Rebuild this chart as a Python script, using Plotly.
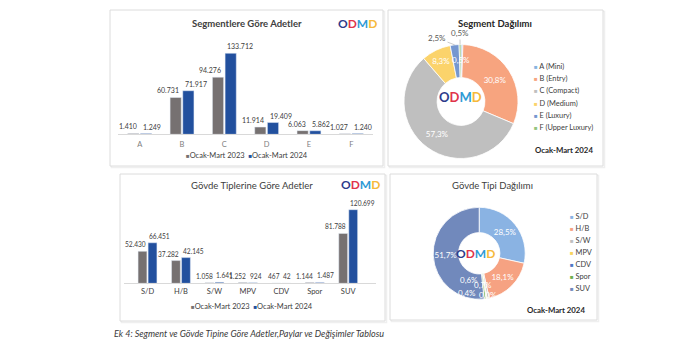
import math
import plotly.graph_objects as go

W, H = 683, 350

# ---------------- data ----------------
seg_cats = ["A", "B", "C", "D", "E", "F"]
seg_2023 = [1410, 60731, 94276, 11914, 6063, 1027]
seg_2024 = [1249, 71917, 133712, 19409, 5862, 1240]
seg_pie_labels = ["A (Mini)", "B (Entry)", "C (Compact)", "D (Medium)", "E (Luxury)", "F (Upper Luxury)"]

body_cats = ["S/D", "H/B", "S/W", "MPV", "CDV", "Spor", "SUV"]
body_2023 = [52430, 37282, 1058, 1252, 467, 1144, 81788]
body_2024 = [66451, 42145, 1641, 924, 42, 1487, 120699]

series_names = ["Ocak-Mart 2023", "Ocak-Mart 2024"]
period_label = "Ocak-Mart 2024"

title_seg_bar = "Segmentlere Göre Adetler"
title_seg_pie = "Segment Dağılımı"
title_body_bar = "Gövde Tiplerine Göre Adetler"
title_body_pie = "Gövde Tipi Dağılımı"
caption = "Ek 4: Segment ve Gövde Tipine Göre Adetler,Paylar ve Değişimler Tablosu"

# ---------------- style ----------------
FONT = "Lato"
C_2023 = "#767171"
C_2024 = "#22509E"
TXT = "#404040"
seg_colors = ["#86B4E0", "#F7A47F", "#BFBFBF", "#FBD36B", "#7597D0", "#93C47D"]
body_colors = ["#8AB3E3", "#F6A282", "#BFBFBF", "#F9D45F", "#4F78C4", "#6FAE4E", "#7189BC"]
NB = "\u00a0"
TOP_LBL = 7
BOT_LBL = 6.6
TOP_GAP = 2    # px: 2023 labels end this far left of the group centre, 2024 labels start this far right
BOT_GAP = 0.8


def px(x):
    return x / W


def py(y):
    return 1 - y / H


def fmt_int(v):
    return f"{v:,}".replace(",", ".")


def fmt_pct(v, total):
    return f"{v / total * 100:.1f}%".replace(".", ",")


def logo(size):
    letters = [("O", "#2D3C8C"), ("D", "#E0344B"), ("M", "#2E9BD6"), ("D", "#F6B93B")]
    s = "".join(f"<span style='color:{c}'>{ch}</span>" for ch, c in letters)
    return dict(text=f"<b>{s}</b>", font=dict(size=size, family=FONT), showarrow=False)


fig = go.Figure()
ann = []


def add_bars(cats, vals, color, name, side, size, gap, xa, ya):
    fig.add_trace(go.Bar(
        x=cats, y=vals, name=name, marker_color=color,
        xaxis=xa, yaxis=ya, showlegend=False))
    # value labels tied to the bar tops through the axes
    for c, v in zip(cats, vals):
        ann.append(dict(xref=xa, yref=ya, x=c, y=v, text=fmt_int(v), showarrow=False,
                        xanchor="right" if side < 0 else "left", yanchor="bottom",
                        xshift=side * gap, yshift=2, borderpad=0,
                        font=dict(size=size, color=TXT, family=FONT)))


add_bars(seg_cats, seg_2023, C_2023, series_names[0], -1, TOP_LBL, TOP_GAP, "x", "y")
add_bars(seg_cats, seg_2024, C_2024, series_names[1], +1, TOP_LBL, TOP_GAP, "x", "y")
add_bars(body_cats, body_2023, C_2023, series_names[0], -1, BOT_LBL, BOT_GAP, "x2", "y2")
add_bars(body_cats, body_2024, C_2024, series_names[1], +1, BOT_LBL, BOT_GAP, "x2", "y2")

# ---------------- pie 1 ----------------
seg_total = sum(seg_2024)
seg_small = [0, 4, 5]  # labelled by annotations
fig.add_trace(go.Pie(
    labels=seg_pie_labels, values=seg_2024, sort=False, direction="clockwise", rotation=0,
    hole=0.42,
    domain=dict(x=[px(404), px(518)], y=[py(158.5), py(44.5)]),
    marker=dict(colors=seg_colors, line=dict(color="white", width=0.8)),
    texttemplate=["" if i in seg_small else "%{percent:.1%}" for i in range(len(seg_2024))],
    textposition="inside", insidetextorientation="horizontal",
    textfont=dict(color="white", size=8, family=FONT),
    showlegend=False))

# ---------------- pie 2 ----------------
body_total = sum(body_2024)
body_small = [2, 3, 4, 5]
fig.add_trace(go.Pie(
    labels=body_cats, values=body_2024, sort=False, direction="clockwise", rotation=0,
    hole=0.45,
    domain=dict(x=[px(433.2), px(525.2)], y=[py(299.3), py(207.3)]),
    marker=dict(colors=body_colors, line=dict(color="white", width=0.8)),
    texttemplate=["" if i in body_small else "%{percent:.1%}" for i in range(len(body_2024))],
    textposition="inside", insidetextorientation="horizontal",
    textfont=dict(color="white", size=8, family=FONT),
    showlegend=False))

# ---------------- shapes (panels) ----------------
panels = [(110, 10, 383, 166), (388, 10, 603, 166), (120, 174, 385, 321), (390, 174, 597, 320)]
shapes = []
for (x0, y0, x1, y1) in panels:
    shapes.append(dict(type="rect", xref="paper", yref="paper",
                       x0=px(x0 + 1.5), x1=px(x1 + 1.5), y0=py(y1 + 1.5), y1=py(y0 + 1.5),
                       line=dict(color="#EFEFEF", width=1.5), fillcolor="rgba(0,0,0,0)", layer="below"))
    shapes.append(dict(type="rect", xref="paper", yref="paper",
                       x0=px(x0), x1=px(x1), y0=py(y1), y1=py(y0),
                       line=dict(color="#DCDCDC", width=1), fillcolor="white", layer="below"))


# ---------------- annotations ----------------
def add_text(x, y, text, size=7.5, color=TXT, xanchor="center", bold=False, **kw):
    t = f"<b>{text}</b>" if bold else text
    ann.append(dict(xref="paper", yref="paper", x=px(x), y=py(y), text=t, showarrow=False,
                    xanchor=xanchor, yanchor="middle",
                    font=dict(size=size, color=color, family=FONT), **kw))


# titles
add_text(247, 23, title_seg_bar, size=9.5, color="#404040", bold=True)
add_text(495, 23, title_seg_pie, size=9.5, color="#262626", bold=True)
add_text(252, 185, title_body_bar, size=9.5, color="#404040")
add_text(492, 185, title_body_pie, size=9.5, color="#404040")

# logos
for (x, y, s) in [(357, 23, 12), (360, 184.5, 12), (460, 97, 13), (475, 253, 12)]:
    d = logo(s)
    d.update(xref="paper", yref="paper", x=px(x), y=py(y), xanchor="center", yanchor="middle")
    ann.append(d)

# bar legends
bar_colors = [C_2023, C_2024]
leg = (NB * 2).join(
    f"<span style='color:{c};font-size:6px'>■</span>{n}" for n, c in zip(series_names, bar_colors))
add_text(247, 155, leg, size=7.5, color="#404040")
add_text(252, 306, leg, size=7.5, color="#404040")

# pie legends
for i, (lab, c) in enumerate(zip(seg_pie_labels, seg_colors)):
    add_text(532, 66 + 12.4 * i, f"<span style='color:{c};font-size:6px'>■</span>{NB}{lab}",
             size=7.4, color="#404040", xanchor="left")
for i, (lab, c) in enumerate(zip(body_cats, body_colors)):
    add_text(568, 216.7 + 11.95 * i, f"<span style='color:{c};font-size:6px'>■</span>{NB}{lab}",
             size=7.4, color="#404040", xanchor="left")

# period labels
add_text(595, 150, period_label, size=7.8, color="#262626", xanchor="right", bold=True)
add_text(587, 310, period_label, size=7.8, color="#262626", xanchor="right", bold=True)

# pie1 small-slice labels
cx1, cy1, R1 = 461, 101.5, 57
cum = 0
mids = []
for v in seg_2024:
    mids.append((cum + v / 2) / seg_total * 2 * math.pi)
    cum += v
add_text(461, 59.5, fmt_pct(seg_2024[0], seg_total), size=8, color="white")
out_pos = {4: (437, 38), 5: (460, 33)}
for i in (4, 5):
    a = mids[i]
    ptx, pty = cx1 + R1 * math.sin(a), cy1 - R1 * math.cos(a)
    tx, ty = out_pos[i]
    ann.append(dict(xref="paper", yref="paper", x=px(ptx), y=py(pty), ax=tx - ptx, ay=ty - pty,
                    text=fmt_pct(seg_2024[i], seg_total), showarrow=True, arrowhead=0,
                    arrowwidth=0.6, arrowcolor="#A6A6A6", standoff=0,
                    font=dict(size=8, color="#595959", family=FONT)))

# pie2 small labels
small_pos = {2: (483, 284.5), 3: (467, 292.5), 4: (488, 295), 5: (469, 280)}
for i in body_small:
    x, y = small_pos[i]
    add_text(x, y, fmt_pct(body_2024[i], body_total), size=8, color="white")

# caption
add_text(112, 333, f"<i>{caption}</i>", size=9, color="#3A3A3A", xanchor="left")

# ---------------- layout ----------------
axis_common = dict(showgrid=False, zeroline=False, ticks="", showline=True,
                   linecolor="#D9D9D9", linewidth=1, fixedrange=True)
fig.update_layout(
    width=W, height=H,
    margin=dict(l=0, r=0, t=0, b=0),
    paper_bgcolor="white", plot_bgcolor="rgba(0,0,0,0)",
    font=dict(family=FONT, color=TXT),
    separators=",.",
    barmode="group", bargap=0.4, bargroupgap=0.12,
    uniformtext=dict(minsize=8, mode="show"),
    xaxis=dict(domain=[px(117.7), px(373.3)], anchor="y", ticklabelstandoff=3,
               tickfont=dict(size=7.5, color="#808080"), **axis_common),
    yaxis=dict(domain=[py(134.3), py(40)], range=[0, 155600], visible=False, anchor="x"),
    xaxis2=dict(domain=[px(123.7), px(376)], anchor="y2", ticklabelstandoff=1,
                tickfont=dict(size=7.5, color="#404040"), **axis_common),
    yaxis2=dict(domain=[py(283.3), py(200)], range=[0, 136600], visible=False, anchor="x2"),
    shapes=shapes,
    annotations=ann,
    showlegend=False,
)

fig.write_html("out.html")
